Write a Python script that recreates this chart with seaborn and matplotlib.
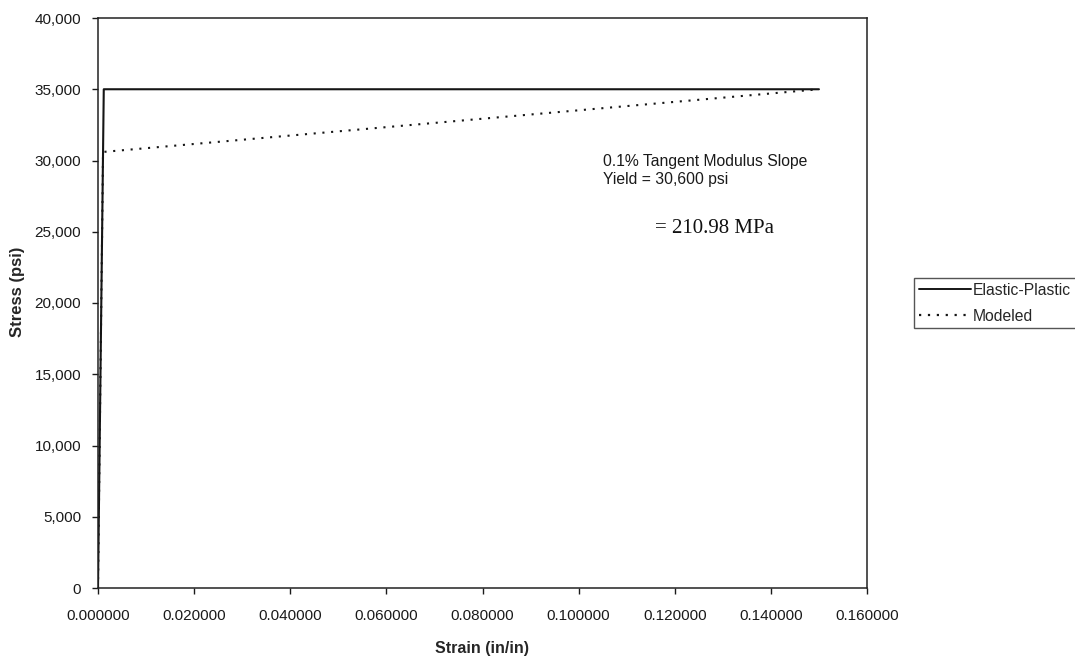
import matplotlib
matplotlib.use("Agg")
import matplotlib.pyplot as plt
from matplotlib.lines import Line2D
from matplotlib.ticker import FuncFormatter, MultipleLocator
import seaborn as sns
import pandas as pd

# Stress-strain curves (strain in in/in, stress in psi)
series_names = ["Elastic-Plastic", "Modeled"]
elastic_plastic_strain = [0.0, 0.0012, 0.150]
elastic_plastic_stress = [0, 35000, 35000]
modeled_strain = [0.0, 0.00105, 0.150]
modeled_stress = [0, 30600, 35000]

annotation_lines = ["0.1% Tangent Modulus Slope", "Yield = 30,600 psi"]
annotation_mpa = "= 210.98 MPa"

df = pd.concat([
    pd.DataFrame({"Strain": elastic_plastic_strain, "Stress": elastic_plastic_stress,
                  "Series": series_names[0]}),
    pd.DataFrame({"Strain": modeled_strain, "Stress": modeled_stress,
                  "Series": series_names[1]}),
], ignore_index=True)

sns.set_style("ticks")
plt.rcParams["font.family"] = ["Liberation Sans", "DejaVu Sans"]

W, H = 1075, 658
fig = plt.figure(figsize=(W / 100, H / 100), dpi=100)
left, right, top, bottom = 98, 867, 18, 588
ax = fig.add_axes([left / W, 1 - bottom / H, (right - left) / W, (bottom - top) / H])

ink = "#151515"
sns.lineplot(data=df, x="Strain", y="Stress", hue="Series", style="Series",
             palette={series_names[0]: ink, series_names[1]: ink},
             dashes={series_names[0]: "", series_names[1]: (1, 3.2)},
             sort=False, estimator=None, linewidth=1.5, ax=ax, legend=False)

ax.set_xlim(0, 0.16)
ax.set_ylim(0, 40000)
ax.xaxis.set_major_locator(MultipleLocator(0.02))
ax.yaxis.set_major_locator(MultipleLocator(5000))
ax.xaxis.set_major_formatter(FuncFormatter(lambda v, p: f"{v:.6f}"))
ax.yaxis.set_major_formatter(FuncFormatter(lambda v, p: f"{v:,.0f}"))
ax.tick_params(axis="both", direction="out", length=4, width=1.0, colors="#1a1a1a",
               labelsize=11)
ax.tick_params(axis="x", pad=11)
ax.tick_params(axis="y", pad=8)
for spine in ax.spines.values():
    spine.set_visible(True)
    spine.set_color("#222222")
    spine.set_linewidth(1.1)

ax.set_xlabel("Strain (in/in)", fontsize=11.5, fontweight="bold")
ax.set_ylabel("Stress (psi)", fontsize=12, fontweight="bold")
ax.xaxis.set_label_coords((482 - left) / (right - left), -(648 - bottom) / (bottom - top))
ax.yaxis.set_label_coords(-(left - 18) / (right - left), (bottom - 292) / (bottom - top))
ax.xaxis.label.set_va("center")
ax.yaxis.label.set_va("center")

ax.text(0.1051, 29300, "\n".join(annotation_lines), fontsize=11.3, color="#1a1a1a",
        va="center", ha="left", linespacing=1.25)
ax.text(0.1159, 25263, annotation_mpa, fontsize=15, color="#111111",
        family="Liberation Serif", va="center", ha="left")

handles = [Line2D([], [], color=ink, lw=1.4),
           Line2D([], [], color=ink, lw=1.6, dashes=(1, 3))]
fig.legend(handles, series_names, loc="upper left",
           bbox_to_anchor=(914 / W, 1 - 278 / H), fontsize=11.3,
           frameon=True, fancybox=False, edgecolor="#555555", framealpha=1,
           handlelength=3.3, handletextpad=0.15, borderpad=0.3, labelspacing=0.7,
           borderaxespad=0)

fig.savefig("out.png", dpi=100)
